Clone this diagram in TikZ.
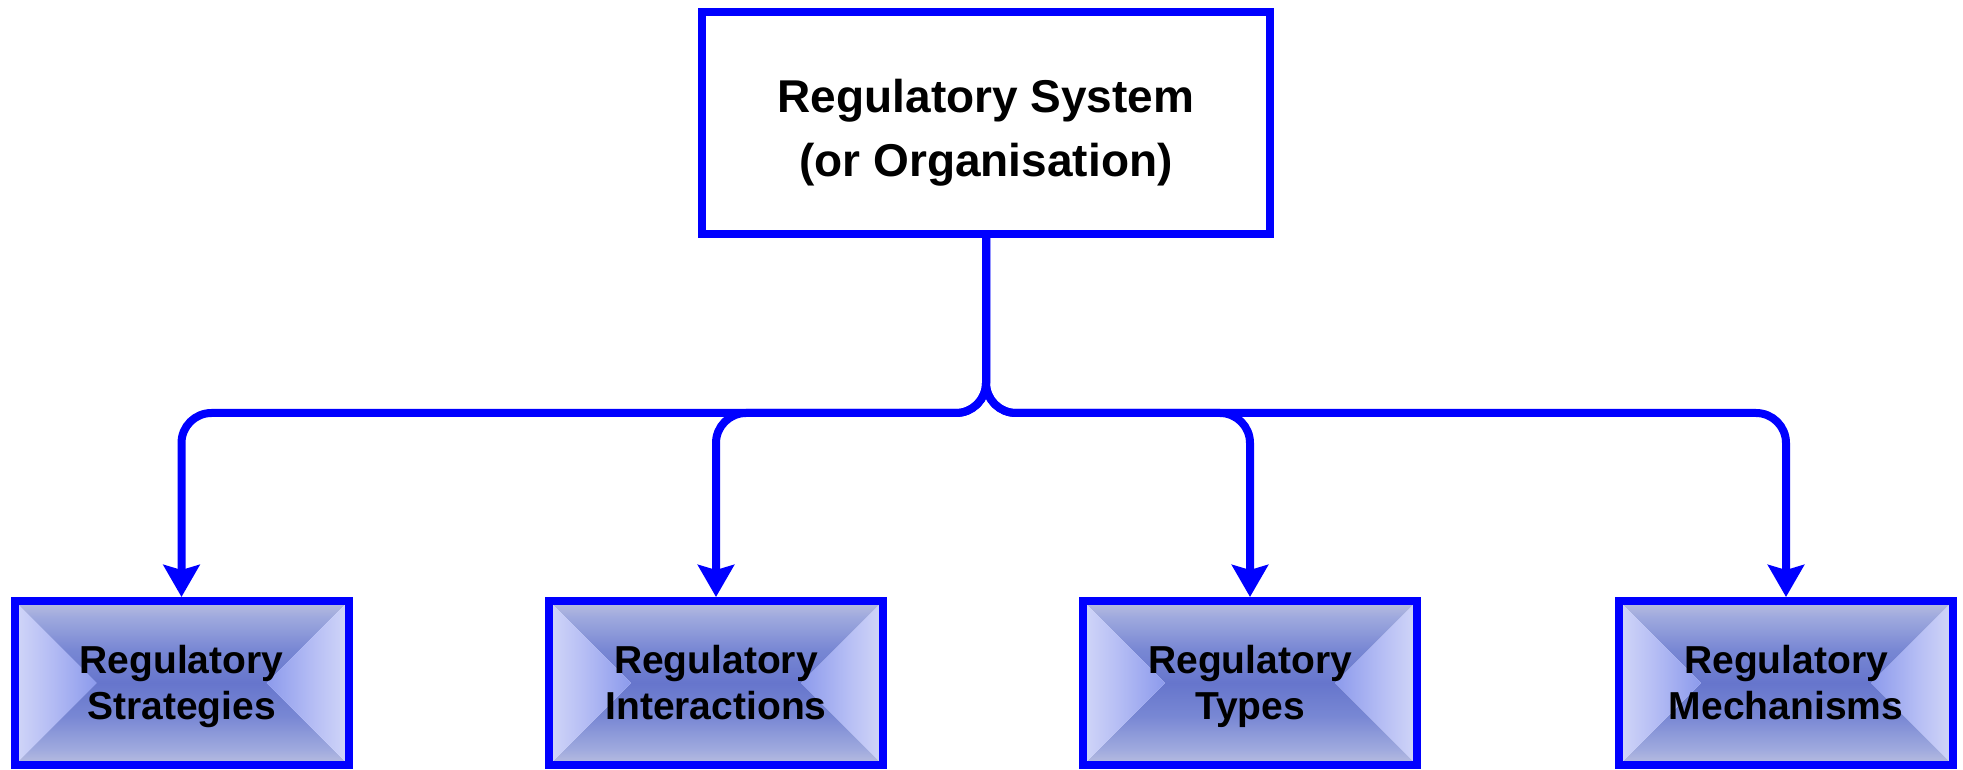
\documentclass[tikz,border=0pt]{standalone}
\usepackage{fontspec}
\setmainfont{Liberation Sans}
\usetikzlibrary{arrows.meta,calc}
\definecolor{bblue}{RGB}{0,0,255}
\pgfdeclareverticalshading{bevtop}{100bp}{%
  rgb(0bp)=(0.35,0.41,0.76); rgb(25bp)=(0.40,0.46,0.80); rgb(45bp)=(0.47,0.53,0.83);
  rgb(65bp)=(0.62,0.66,0.87); rgb(80bp)=(0.78,0.79,0.88); rgb(90bp)=(0.72,0.72,0.77);
  rgb(100bp)=(0.71,0.72,0.76)}
\pgfdeclarehorizontalshading{bevside}{100bp}{%
  rgb(0bp)=(0.93,0.93,0.98); rgb(10bp)=(0.90,0.91,0.98); rgb(45bp)=(0.72,0.75,0.96);
  rgb(80bp)=(0.52,0.58,0.92); rgb(100bp)=(0.45,0.51,0.90)}
\tikzset{
  topbox/.style={draw=bblue, line width=8pt, fill=white, minimum width=568pt, minimum height=222pt,
    align=center, font=\fontsize{46}{64}\selectfont\bfseries, inner sep=0pt,
    text height=107pt, text depth=0pt},
  leafbox/.style={draw=bblue, line width=8pt, minimum width=334pt, minimum height=164pt,
    align=center, font=\fontsize{39}{46}\selectfont\bfseries, inner sep=0pt,
    text height=72pt, text depth=0pt,
    path picture={
      \coordinate (cc) at (path picture bounding box.center);
      \shade[shading=bevtop]
        ($(cc)+(-167,82)$) -- ($(cc)+(167,82)$) -- ($(cc)+(85,0)$) -- ($(cc)+(-85,0)$) -- cycle;
      \shade[shading=bevtop, shading angle=180]
        ($(cc)+(-167,-82)$) -- ($(cc)+(167,-82)$) -- ($(cc)+(85,0)$) -- ($(cc)+(-85,0)$) -- cycle;
      \shade[shading=bevside]
        ($(cc)+(-167,82)$) -- ($(cc)+(-85,0)$) -- ($(cc)+(-167,-82)$) -- cycle;
      \shade[shading=bevside, shading angle=180]
        ($(cc)+(167,82)$) -- ($(cc)+(85,0)$) -- ($(cc)+(167,-82)$) -- cycle;
    }},
  conn/.style={draw=bblue, line width=8pt, rounded corners=30pt,
    -{Stealth[length=32pt,width=36pt,inset=5pt]}},
}
\begin{document}
\begin{tikzpicture}[x=1pt,y=1pt]
\useasboundingbox (0,0) rectangle (1963,769);
\node[topbox] (top) at (986,646) {Regulatory System\\(or Organisation)};
\node[leafbox] (b1) at (181.5,86) {Regulatory\\Strategies};
\node[leafbox] (b2) at (716,86) {Regulatory\\Interactions};
\node[leafbox] (b3) at (1250,86) {Regulatory\\Types};
\node[leafbox] (b4) at (1786,86) {Regulatory\\Mechanisms};
\coordinate (hub) at (986,356);
\foreach \b in {b1,b2,b3,b4}{
  \draw[conn] (top.south) -- (hub) -- (hub -| \b.north) -- (\b.north);
}
\end{tikzpicture}
\end{document}
